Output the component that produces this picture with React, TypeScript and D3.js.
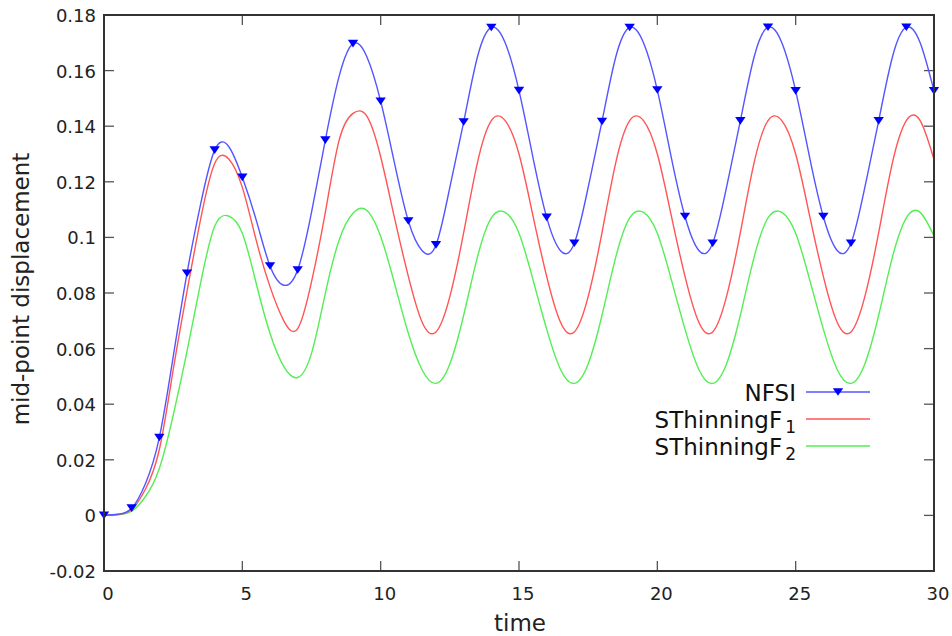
import React from 'react';
import * as d3 from 'd3';

const TIME = [0, 0.5, 1, 1.5, 2, 2.5, 3, 3.5, 4, 4.5, 5, 5.5, 6, 6.5, 7, 7.5, 8, 8.5, 9, 9.5, 10, 10.5, 11, 11.5, 12, 12.5, 13, 13.5, 14, 14.5, 15, 15.5, 16, 16.5, 17, 17.5, 18, 18.5, 19, 19.5, 20, 20.5, 21, 21.5, 22, 22.5, 23, 23.5, 24, 24.5, 25, 25.5, 26, 26.5, 27, 27.5, 28, 28.5, 29, 29.5, 30];

const NFSI = [0, 0.0004, 0.0026, 0.0115, 0.028, 0.057, 0.0871, 0.1123, 0.1314, 0.1328, 0.1216, 0.1063, 0.0897, 0.0828, 0.0883, 0.109, 0.135, 0.158, 0.1697, 0.165, 0.149, 0.1267, 0.1059, 0.0952, 0.0973, 0.118, 0.1415, 0.165, 0.1755, 0.170, 0.1528, 0.129, 0.1072, 0.0952, 0.0979, 0.118, 0.1417, 0.165, 0.1755, 0.170, 0.1530, 0.129, 0.1075, 0.0953, 0.0979, 0.118, 0.1419, 0.165, 0.1756, 0.170, 0.1527, 0.129, 0.1075, 0.0953, 0.0979, 0.118, 0.1419, 0.165, 0.1756, 0.170, 0.1527];

const STHINNING_F1 = [0, 0.0003, 0.0021, 0.0095, 0.0237, 0.0523, 0.0806, 0.1069, 0.1266, 0.1283, 0.118, 0.099, 0.0823, 0.0700, 0.0672, 0.084, 0.109, 0.135, 0.1446, 0.1436, 0.129, 0.107, 0.086, 0.0695, 0.0660, 0.0787, 0.1017, 0.127, 0.1420, 0.1420, 0.130, 0.108, 0.086, 0.0695, 0.0660, 0.0787, 0.1017, 0.127, 0.1420, 0.1420, 0.130, 0.108, 0.086, 0.0695, 0.0660, 0.0787, 0.1017, 0.127, 0.1420, 0.1420, 0.130, 0.108, 0.086, 0.0695, 0.0660, 0.0787, 0.1017, 0.127, 0.1420, 0.1420, 0.128];

const STHINNING_F2 = [0, 0.0002, 0.0015, 0.0068, 0.0169, 0.036, 0.059, 0.084, 0.104, 0.1077, 0.1015, 0.0835, 0.0655, 0.0535, 0.0496, 0.0583, 0.0799, 0.0991, 0.1087, 0.1097, 0.1003, 0.0835, 0.0655, 0.0523, 0.0475, 0.0545, 0.072, 0.093, 0.107, 0.109, 0.1015, 0.085, 0.067, 0.0525, 0.0475, 0.0545, 0.072, 0.093, 0.107, 0.109, 0.1015, 0.085, 0.067, 0.0525, 0.0475, 0.0545, 0.072, 0.093, 0.107, 0.109, 0.1015, 0.085, 0.067, 0.0525, 0.0475, 0.0545, 0.072, 0.093, 0.107, 0.109, 0.1005];

const X_TICKS = [0, 5, 10, 15, 20, 25, 30];
const X_TICK_LABELS = ['0', '5', '10', '15', '20', '25', '30'];
const Y_TICKS = [-0.02, 0, 0.02, 0.04, 0.06, 0.08, 0.1, 0.12, 0.14, 0.16, 0.18];
const Y_TICK_LABELS = ['-0.02', '0', '0.02', '0.04', '0.06', '0.08', '0.1', '0.12', '0.14', '0.16', '0.18'];

const W = 952;
const H = 636;
const L = 104, R = 934, T = 15, B = 571;
const FONT = 'DejaVu Sans, sans-serif';

export default function App() {
  const x = d3.scaleLinear().domain([0, 30]).range([L, R]);
  const y = d3.scaleLinear().domain([-0.02, 0.18]).range([B, T]);
  const line = d3.line<[number, number]>().x(d => x(d[0])).y(d => y(d[1])).curve(d3.curveNatural);
  const mk = (vals: number[]) => TIME.map((t, i) => [t, vals[i]] as [number, number]);
  const blue = mk(NFSI), red = mk(STHINNING_F1), green = mk(STHINNING_F2);
  const markers = blue.filter(d => Number.isInteger(d[0]));
  const tri = (cx: number, cy: number) => `M${cx - 5.2},${cy - 3.8}L${cx + 5.2},${cy - 3.8}L${cx},${cy + 3.8}Z`;
  const tickLen = 10;
  const legX1 = 806, legX2 = 870, legTextX = 796;
  const legY = [392, 419, 446];
  return (
    <svg width={W} height={H} style={{ position: 'absolute', left: 0, top: 0, background: '#fff' }} fontFamily={FONT}>
      <rect x={0} y={0} width={W} height={H} fill="#fff" />
      {X_TICKS.map(t => (
        <g key={'xt' + t} stroke="#555" strokeWidth={1.3}>
          <line x1={x(t)} x2={x(t)} y1={B} y2={B - tickLen} />
          <line x1={x(t)} x2={x(t)} y1={T} y2={T + tickLen} />
        </g>
      ))}
      {Y_TICKS.map(t => (
        <g key={'yt' + t} stroke="#555" strokeWidth={1.3}>
          <line x1={L} x2={L + tickLen} y1={y(t)} y2={y(t)} />
          <line x1={R} x2={R - tickLen} y1={y(t)} y2={y(t)} />
        </g>
      ))}
      <path d={line(green) || ''} fill="none" stroke="#55ee55" strokeWidth={1.4} />
      <path d={line(red) || ''} fill="none" stroke="#ff5555" strokeWidth={1.4} />
      <path d={line(blue) || ''} fill="none" stroke="#5555ff" strokeWidth={1.4} />
      {markers.map(d => (
        <path key={'m' + d[0]} d={tri(x(d[0]), y(d[1]))} fill="#0000ff" />
      ))}
      <rect x={L} y={T} width={R - L} height={B - T} fill="none" stroke="#333" strokeWidth={2} />
      {X_TICKS.map((t, i) => (
        <text key={'xl' + t} x={x(t) + 4} y={600} fontSize={18} textAnchor="middle" fill="#222">{X_TICK_LABELS[i]}</text>
      ))}
      {Y_TICKS.map((t, i) => (
        <text key={'yl' + t} x={96} y={y(t) + 7} fontSize={18} textAnchor="end" fill="#222">{Y_TICK_LABELS[i]}</text>
      ))}
      <text x={520} y={631} fontSize={23} textAnchor="middle" fill="#222">time</text>
      <text transform={`translate(29,289) rotate(-90)`} fontSize={23} textAnchor="middle" fill="#222">mid-point displacement</text>
      <text x={legTextX} y={legY[0] + 9} fontSize={23} textAnchor="end" fill="#111">NFSI</text>
      <line x1={legX1} x2={legX2} y1={legY[0]} y2={legY[0]} stroke="#5555ff" strokeWidth={1.4} />
      <path d={tri((legX1 + legX2) / 2, legY[0])} fill="#0000ff" />
      <text x={legTextX} y={legY[1] + 9} fontSize={23} textAnchor="end" fill="#111">SThinningF<tspan fontSize={17} dx={3} dy={5}>1</tspan></text>
      <line x1={legX1} x2={legX2} y1={legY[1]} y2={legY[1]} stroke="#ff5555" strokeWidth={1.4} />
      <text x={legTextX} y={legY[2] + 9} fontSize={23} textAnchor="end" fill="#111">SThinningF<tspan fontSize={17} dx={3} dy={5}>2</tspan></text>
      <line x1={legX1} x2={legX2} y1={legY[2]} y2={legY[2]} stroke="#55ee55" strokeWidth={1.4} />
    </svg>
  );
}
